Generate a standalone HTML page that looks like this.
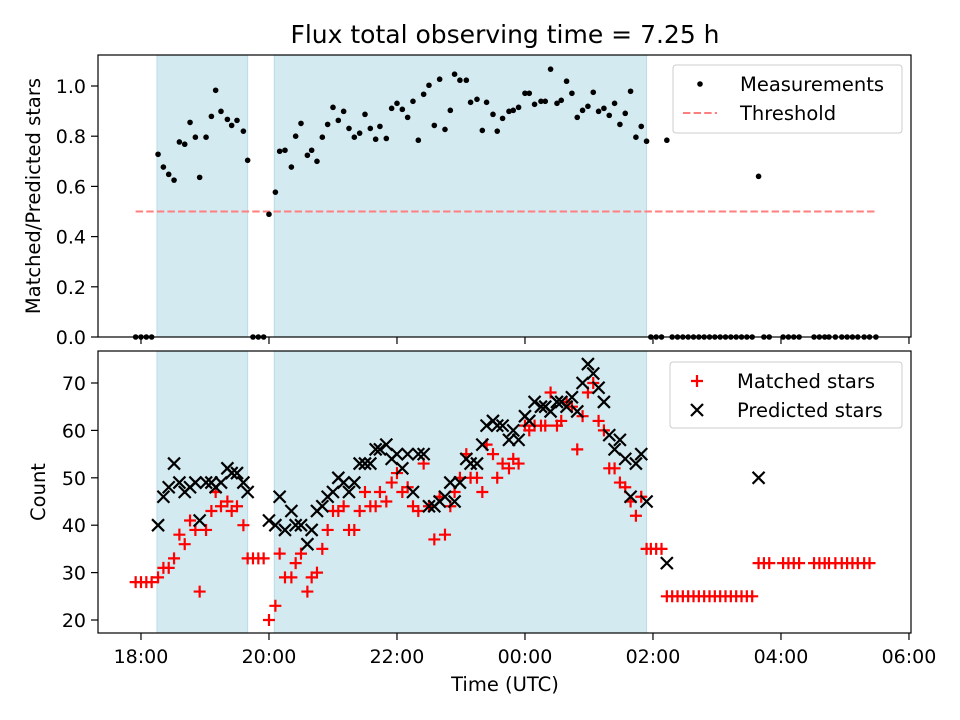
<!DOCTYPE html>
<html><head><meta charset="utf-8"><style>
body{margin:0;background:#fff;}
svg{display:block;font-family:"DejaVu Sans","Liberation Sans",sans-serif;}
</style></head><body>
<svg id="chart" width="960" height="720" viewBox="0 0 960 720" xmlns="http://www.w3.org/2000/svg">
<rect width="960" height="720" fill="#fff"/>
<text x="505" y="43" text-anchor="middle" font-size="25">Flux total observing time = 7.25 h</text>
<g id="top"></g><g id="bot"></g>
</svg>
<script>
// minutes since 18:00 UTC
const times=[-5,0,5,10,16,21,26,31,36,41,46,51,55,61,66,70,75,81,85,90,96,100,105,110,115,120,126,130,135,141,145,150,156,160,165,170,175,180,185,190,195,200,205,210,215,220,224,230,235,240,245,250,255,260,265,270,275,280,285,290,294,299,305,309,315,320,324,330,334,339,345,349,354,360,364,369,375,379,384,390,394,399,404,409,414,419,424,429,434,439,444,449,454,459,464,469,474,478,483,488,493,498,503,508,513,518,523,528,533,538,543,548,553,558,563,568,573,579,584,589,602,607,612,617,631,636,641,645,651,657,662,667,672,678,683,689];
const ratio=[0,0,0,0,.728,.677,.648,.625,.777,.768,.855,.796,.636,.796,.879,.983,.899,.867,.843,.863,.82,.704,0,0,0,.489,.577,.74,.744,.677,.8,.851,.724,.744,.7,.796,.847,.915,.863,.899,.831,.796,.812,.887,.831,.788,.839,.791,.911,.931,.907,.875,.939,.784,.967,1.003,.843,1.027,.827,.903,1.047,1.023,1.023,.935,.947,.823,.935,.887,.82,.871,.899,.903,.915,.971,.971,.927,.939,.939,1.067,.931,.943,1.019,.971,.875,.903,.919,.975,.899,.911,.883,.931,.847,.891,.979,.796,.839,.78,0,0,0,.784,0,0,0,0,0,0,0,0,0,0,0,0,0,0,0,0,.64,0,0,0,0,0,0,0,0,0,0,0,0,0,0,0,0,0,0];
const matched=[28,28,28,28,29,31,31,33,38,36,41,39,26,39,43,47,44,45,43,44,40,33,33,33,33,20,23,34,29,29,32,34,26,29,30,35,39,43,43,44,39,39,43,47,44,44,47,45,49,51,47,48,44,43,53,44,37,46,38,44,47,50,55,50,50,47,57,55,50,53,52,54,53,61,60,61,61,61,68,61,62,66,65,56,63,68,70,62,60,52,52,49,48,45,42,46,35,35,35,35,25,25,25,25,25,25,25,25,25,25,25,25,25,25,25,25,25,32,32,32,32,32,32,32,32,32,32,32,32,32,32,32,32,32,32];
const predicted=[null,null,null,null,40,46,48,53,49,47,48,49,41,49,49,48,49,52,51,51,49,47,null,null,null,41,40,46,39,43,40,40,36,39,43,44,46,47,50,49,47,49,53,53,53,56,56,57,54,55,52,55,47,55,55,44,44,45,46,49,45,49,54,53,53,57,61,62,61,61,58,60,58,63,62,66,65,65,64,66,66,65,67,64,70,74,72,69,66,59,56,58,54,46,53,55,45,null,null,null,32,null,null,null,null,null,null,null,null,null,null,null,null,null,null,null,null,50,null,null,null,null,null,null,null,null,null,null,null,null,null,null,null,null,null];
const spans=[[15,100],[125,474]];
const threshold=0.5, thrStart=-5, thrEnd=689;
const xTicks=[0,120,240,360,480,600,720];
const xTickLabels=["18:00","20:00","22:00","00:00","02:00","04:00","06:00"];
const topTicks=[0,0.2,0.4,0.6,0.8,1.0];
const botTicks=[20,30,40,50,60,70];

const NS="http://www.w3.org/2000/svg";
const L=98,R=911,XMIN=-40.3,XMAX=721.9;
const x=m=>L+(m-XMIN)/(XMAX-XMIN)*(R-L);
function mk(p,tag,a){const e=document.createElementNS(NS,tag);for(const k in a)e.setAttribute(k,a[k]);p.appendChild(e);return e;}
function axes(g,T,B,ymin,ymax,ticks,fmt,showX,title,titleX){
  const y=v=>B-(v-ymin)/(ymax-ymin)*(B-T);
  spans.forEach(s=>{const r=mk(g,'rect',{x:x(s[0]),y:T,width:x(s[1])-x(s[0]),height:B-T,fill:'#d4eaf1',stroke:'#bcdbe7','stroke-width':1});
    
    });
  ticks.forEach(v=>{mk(g,'line',{x1:L-7,x2:L,y1:y(v),y2:y(v),stroke:'#000','stroke-width':1.2});
    const t=mk(g,'text',{x:L-12,y:y(v)+7,'text-anchor':'end','font-size':'19'});t.textContent=fmt(v);
    
    });
  xTicks.forEach((m,i)=>{mk(g,'line',{x1:x(m),x2:x(m),y1:B,y2:B+7,stroke:'#000','stroke-width':1.2});
    if(showX){const t=mk(g,'text',{x:x(m),y:B+30,'text-anchor':'middle','font-size':'19'});t.textContent=xTickLabels[i];
      
      }});
  const yt=mk(g,'text',{x:0,y:0,'text-anchor':'middle','font-size':'19.5',transform:`translate(${titleX},${(T+B)/2}) rotate(-90)`});yt.textContent=title;
  
  
  return y;
}
function frame(g,T,B){const r=mk(g,'rect',{x:L,y:T,width:R-L,height:B-T,fill:'none',stroke:'#000','stroke-width':1.2});
  
  }
function legend(g,x0,y0,w,h,items){
  const b=mk(g,'rect',{x:x0,y:y0,width:w,height:h,rx:3,fill:'#fff','fill-opacity':0.8,stroke:'#ccc'});
  
  
  items.forEach((it,i)=>{const cy=y0+19+i*29;it.draw(x0+27,cy);
    const t=mk(g,'text',{x:x0+67,y:cy+7,'font-size':'19.5'});t.textContent=it.label;
    
    });
}
function plus(g,cx,cy){return mk(g,'path',{d:`M${cx-6},${cy}h12M${cx},${cy-6}v12`,stroke:'#f00','stroke-width':2.2});}
function cross(g,cx,cy){return mk(g,'path',{d:`M${cx-6},${cy-6}l12,12M${cx-6},${cy+6}l12,-12`,stroke:'#000','stroke-width':2.2});}

// top panel
const gt=document.getElementById('top');
const yT=axes(gt,55,337,0,1.1235,topTicks,v=>v.toFixed(1),false,'Matched/Predicted stars',40);
const th=mk(gt,'line',{x1:x(thrStart),x2:x(thrEnd),y1:yT(threshold),y2:yT(threshold),stroke:'#ff7f7f','stroke-width':2,'stroke-dasharray':'7.4,3.2'});


times.forEach((m,i)=>{const c=mk(gt,'circle',{cx:x(m),cy:yT(ratio[i]),r:2.8,fill:'#000'});
  
  });
frame(gt,55,337);
legend(gt,673,65,229,68,[
 {label:'Measurements',draw:(a,b)=>mk(gt,'circle',{cx:a,cy:b,r:2.8,fill:'#000'})},
 {label:'Threshold',draw:(a,b)=>mk(gt,'line',{x1:a-17,x2:a+17,y1:b,y2:b,stroke:'#ff7f7f','stroke-width':2,'stroke-dasharray':'7.4,3.2'})}]);

// bottom panel
const gb=document.getElementById('bot');
const yB=axes(gb,351,633,17.26,76.75,botTicks,v=>String(v),true,'Count',45);
times.forEach((m,i)=>{const p=plus(gb,x(m),yB(matched[i]));
  
  });
times.forEach((m,i)=>{if(predicted[i]==null)return;const p=cross(gb,x(m),yB(predicted[i]));
  
  });
frame(gb,351,633);
legend(gb,670,362,232,66,[
 {label:'Matched stars',draw:(a,b)=>plus(gb,a,b)},
 {label:'Predicted stars',draw:(a,b)=>cross(gb,a,b)}]);
const xl=mk(gb,'text',{x:505,y:691,'text-anchor':'middle','font-size':'19.5'});xl.textContent='Time (UTC)';


</script>
</body></html>
